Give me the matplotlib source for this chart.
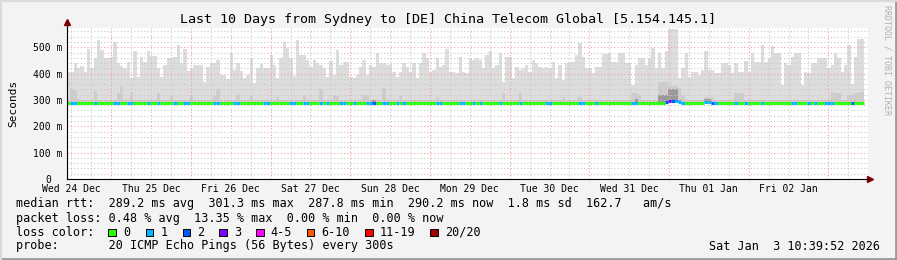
import numpy as np
import matplotlib
matplotlib.use("Agg")
import matplotlib.pyplot as plt
from matplotlib.patches import Rectangle
from matplotlib.lines import Line2D

plt.rcParams['font.family'] = ['DejaVu Sans Mono']

# --- data: one value per hour, 10 days back from Sat Jan 3 10:39:52 2026 ---
# highest ping of the 20 (top of the smoke), ms
smoke_top = [
    405, 405, 439, 422, 429, 407, 493, 420, 458, 527, 490, 458, 458, 464, 519, 439, 429, 420, 445, 384, 486, 388, 464, 445,
    486, 467, 467, 420, 388, 433, 458, 458, 464, 508, 439, 493, 410, 420, 433, 433, 433, 369, 426, 439, 439, 451, 394, 394,
    381, 477, 413, 439, 410, 384, 394, 458, 365, 422, 435, 422, 420, 470, 433, 384, 461, 519, 496, 458, 391, 527, 470, 470,
    451, 426, 451, 439, 433, 422, 388, 448, 394, 490, 433, 445, 445, 388, 382, 394, 426, 451, 394, 433, 426, 477, 439, 439,
    433, 435, 407, 388, 407, 439, 426, 407, 439, 382, 439, 477, 458, 407, 413, 458, 426, 433, 493, 407, 407, 401, 464, 407,
    401, 458, 451, 458, 451, 420, 470, 486, 420, 433, 477, 369, 464, 464, 382, 426, 413, 420, 433, 407, 451, 442, 426, 420,
    426, 420, 445, 382, 433, 375, 439, 445, 445, 470, 515, 464, 420, 420, 401, 426, 426, 473, 473, 477, 445, 445, 477, 477,
    442, 442, 357, 433, 461, 458, 433, 458, 499, 420, 480, 420, 486, 569, 569, 569, 384, 422, 477, 388, 407, 407, 394, 413,
    486, 413, 413, 401, 401, 439, 439, 433, 401, 439, 407, 407, 448, 407, 477, 445, 445, 508, 445, 458, 506, 477, 477, 356,
    439, 433, 464, 477, 477, 356, 407, 401, 439, 439, 458, 461, 458, 420, 433, 477, 458, 407, 433, 508, 360, 464, 533, 533,
]
# denser part of the smoke, ms
smoke_mid = [
    300, 340, 338, 305, 300, 300, 300, 300, 335, 300, 300, 300, 300, 300, 300, 328, 353, 300, 300, 328, 300, 300, 300, 300,
    300, 300, 300, 325, 300, 300, 300, 318, 300, 300, 300, 300, 300, 318, 300, 300, 300, 300, 300, 300, 315, 342, 300, 300,
    300, 300, 300, 318, 300, 300, 300, 318, 300, 300, 300, 300, 300, 300, 300, 313, 300, 300, 300, 300, 300, 300, 300, 318,
    300, 300, 300, 300, 342, 300, 300, 300, 320, 315, 300, 300, 300, 300, 300, 300, 300, 318, 318, 300, 300, 300, 300, 346,
    300, 300, 300, 300, 315, 300, 300, 300, 300, 300, 300, 300, 300, 300, 300, 312, 300, 300, 300, 300, 300, 300, 300, 300,
    300, 300, 300, 300, 300, 300, 300, 300, 300, 300, 300, 325, 300, 300, 300, 300, 325, 300, 300, 300, 300, 300, 300, 300,
    300, 300, 300, 300, 300, 312, 300, 300, 300, 300, 312, 300, 300, 300, 300, 300, 300, 300, 300, 300, 300, 300, 300, 300,
    300, 300, 328, 328, 318, 300, 300, 300, 300, 300, 367, 367, 367, 352, 352, 352, 346, 320, 300, 300, 300, 300, 300, 300,
    312, 312, 312, 300, 300, 300, 300, 300, 300, 325, 325, 325, 300, 300, 300, 300, 300, 300, 300, 300, 300, 300, 300, 300,
    300, 300, 300, 300, 300, 300, 300, 300, 300, 300, 300, 300, 300, 300, 330, 325, 325, 300, 300, 320, 322, 325, 328, 330,
]
# darkest smoke around the median, ms
smoke_core = [
    289, 289, 289, 289, 289, 289, 289, 289, 289, 289, 289, 289, 289, 289, 289, 289, 289, 289, 289, 289, 289, 289, 289, 289,
    289, 289, 289, 289, 289, 289, 289, 289, 289, 289, 289, 289, 289, 289, 289, 289, 289, 289, 289, 289, 289, 289, 289, 289,
    289, 289, 289, 289, 289, 289, 289, 289, 289, 289, 289, 289, 289, 289, 289, 289, 289, 289, 289, 289, 289, 289, 289, 289,
    289, 289, 289, 289, 289, 289, 289, 289, 289, 289, 289, 289, 289, 289, 289, 289, 289, 289, 289, 289, 298, 289, 289, 289,
    289, 289, 289, 289, 289, 289, 289, 289, 289, 289, 289, 289, 289, 289, 289, 289, 289, 289, 289, 289, 289, 289, 289, 289,
    289, 289, 289, 289, 289, 289, 289, 289, 289, 289, 289, 289, 289, 289, 289, 289, 289, 289, 289, 289, 289, 289, 289, 289,
    289, 289, 289, 289, 289, 289, 289, 289, 289, 289, 289, 289, 289, 289, 289, 289, 289, 289, 289, 289, 289, 289, 289, 289,
    289, 289, 289, 305, 289, 289, 289, 289, 289, 289, 318, 318, 318, 340, 340, 340, 300, 289, 289, 289, 289, 289, 289, 289,
    305, 305, 289, 289, 289, 289, 289, 289, 289, 289, 289, 289, 289, 289, 289, 289, 289, 289, 289, 289, 289, 289, 289, 289,
    289, 289, 289, 289, 289, 289, 289, 289, 289, 289, 289, 289, 289, 289, 289, 289, 289, 289, 289, 289, 289, 289, 289, 289,
]
# median rtt, ms
median_rtt = [289] * 240
median_rtt[180] = 294
median_rtt[181] = 297
median_rtt[182] = 297
median_rtt[183] = 297
median_rtt[184] = 293
median_rtt[192] = 293
median_rtt[193] = 293
# lost pings (of 20) per hour
loss_hours_1 = [1, 2, 8, 14, 15, 18, 19, 24, 27, 32, 35, 36, 44, 45, 50, 51, 59, 60, 67, 68, 71, 72, 76, 78, 82, 83, 86,
                90, 91, 95, 96, 99, 101, 111, 112, 118, 119, 122, 124, 130, 136, 144, 145, 154, 155, 159, 170, 171, 183,
                184, 185, 192, 193, 195, 201, 204, 209, 218, 219, 223, 225, 228, 229, 230]
loss_hours_2 = [92, 180, 182, 194, 236]
loss_hours_3 = [181]

day_labels = ['Wed 24 Dec', 'Thu 25 Dec', 'Fri 26 Dec', 'Sat 27 Dec', 'Sun 28 Dec',
              'Mon 29 Dec', 'Tue 30 Dec', 'Wed 31 Dec', 'Thu 01 Jan', 'Fri 02 Jan']
loss_labels = ['0', '1', '2', '3', '4-5', '6-10', '11-19', '20/20']
loss_colors = ['#26ff00', '#00b8ff', '#0059ff', '#7e00ff', '#ff00ff', '#ff5500', '#ff0000', '#a00000']

start_offset = 10 + 39 / 60 + 52 / 3600   # graph starts Dec 24 10:39:52

loss = np.zeros(240, dtype=int)
loss[loss_hours_1] = 1
loss[loss_hours_2] = 2
loss[loss_hours_3] = 3

W, H = 897, 260
fig = plt.figure(figsize=(W / 100, H / 100), dpi=100, facecolor='#f3f3f3')
x0, x1, y0, y1 = 67, 868, 179, 27.7
ax = fig.add_axes([x0 / W, 1 - y0 / H, (x1 - x0) / W, (y0 - y1) / H])
ax.set_facecolor('white')
px_per_h = 3.32
ax.set_xlim(0, (x1 - x0) / px_per_h)
ax.set_ylim(0, (y0 - y1) / 0.2635)

edges = np.arange(241)
base = np.array(median_rtt) - 2
ax.stairs(smoke_top, edges, baseline=base, fill=True, color='#dddddd', lw=0, zorder=1)
ax.stairs(smoke_mid, edges, baseline=base, fill=True, color='#cdcdcd', lw=0, zorder=1.1)
ax.stairs(smoke_core, edges, baseline=base, fill=True, color='#9a9a9a', lw=0, zorder=1.2)

# grid
ymax = ax.get_ylim()[1]
for v in range(20, int(ymax), 20):
    c = '#f2a0a0' if v % 100 == 0 else '#c8c8c8'
    ax.axhline(v, color=c, lw=0.8, ls=(0, (1, 2)), zorder=2)
hmax = ax.get_xlim()[1]
for k in range(1, 45):
    h = 6 * k - start_offset
    if 0 < h < hmax:
        c = '#f2a0a0' if (6 * k) % 24 == 0 else '#c8c8c8'
        ax.axvline(h, color=c, lw=0.8, ls=(0, (1, 2)), zorder=2)

# median line coloured by loss
ax.hlines(median_rtt, edges[:-1], edges[1:], colors=[loss_colors[n] for n in loss], lw=2.2, zorder=4)

for s in ['top', 'right']:
    ax.spines[s].set_visible(False)
for s in ['left', 'bottom']:
    ax.spines[s].set_linewidth(0.8)
    ax.spines[s].set_zorder(5)
ax.add_line(Line2D([0, 0], [1, 1.03], transform=ax.transAxes, color='black', lw=0.8, clip_on=False))
ax.plot([0], [1.035], marker='^', ms=4, color='#7f0000', transform=ax.transAxes, clip_on=False)
ax.plot([1.003], [0], marker='>', ms=4, color='#7f0000', transform=ax.transAxes, clip_on=False)

ax.set_yticks([0, 100, 200, 300, 400, 500], ['0', '100 m', '200 m', '300 m', '400 m', '500 m'])
ax.set_xticks([12 + 24 * k - start_offset for k in range(10)], day_labels)
ax.tick_params(axis='both', length=0, labelsize=7, pad=3, colors='black')
ax.tick_params(axis='x', pad=3.5)
ax.get_yticklabels()[0].set_x(-12 / (x1 - x0))
ax.set_ylabel('Seconds', fontsize=8, labelpad=11)

fig.text(0.499, 1 - 19 / H, 'Last 10 Days from Sydney to [DE] China Telecom Global [5.154.145.1]',
         ha='center', va='center', fontsize=9.6)
fig.text(887 / W, 1 - 60 / H, 'RRDTOOL / TOBI OETIKER', rotation=270, ha='center', va='center',
         fontsize=6, color='#b0b0b0')

fs = 8.5
fig.text(16 / W, 1 - 204 / H,
         'median rtt:  289.2 ms avg  301.3 ms max  287.8 ms min  290.2 ms now  1.8 ms sd  162.7   am/s',
         va='center', fontsize=fs)
fig.text(16 / W, 1 - 218.3 / H, 'packet loss: 0.48 % avg  13.35 % max  0.00 % min  0.00 % now',
         va='center', fontsize=fs)
fig.text(16 / W, 1 - 232.3 / H, 'loss color:', va='center', fontsize=fs)
box_x = [108.3, 145.7, 182.7, 219, 256, 306.7, 365, 430]
for bx, lab, col in zip(box_x, loss_labels, loss_colors):
    fig.add_artist(Rectangle((bx / W, 1 - 236 / H), 7.5 / W, 7.5 / H, facecolor=col,
                             edgecolor='black', lw=0.7, transform=fig.transFigure))
    fig.text((bx + 14.7) / W, 1 - 232.3 / H, lab, va='center', fontsize=fs)
fig.text(16 / W, 1 - 246 / H, 'probe:       20 ICMP Echo Pings (56 Bytes) every 300s', va='center', fontsize=fs)
fig.text(880 / W, 1 - 246 / H, 'Sat Jan  3 10:39:52 2026', ha='right', va='center', fontsize=fs)

# 3d frame
fig.add_artist(Line2D([0, 1], [1.5 / H, 1.5 / H], transform=fig.transFigure, color='#9a9a9a', lw=2))
fig.add_artist(Line2D([1 - 1.5 / W, 1 - 1.5 / W], [0, 1], transform=fig.transFigure, color='#9a9a9a', lw=2))
fig.add_artist(Line2D([0, 1], [1 - 1 / H, 1 - 1 / H], transform=fig.transFigure, color='#dadada', lw=1.5))
fig.add_artist(Line2D([1 / W, 1 / W], [0, 1], transform=fig.transFigure, color='#dadada', lw=1.5))

fig.savefig('out.png', dpi=100, facecolor=fig.get_facecolor())
